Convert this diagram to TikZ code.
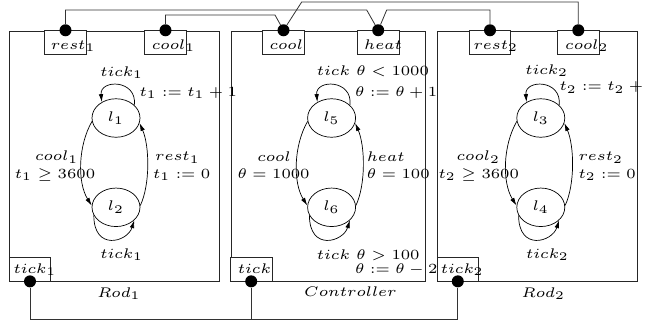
\documentclass[tikz,border=0pt]{standalone}
\usetikzlibrary{arrows.meta,shapes.geometric}
\newcommand{\mtx}[1]{\scalebox{2.55}[2.33]{\fontsize{6}{7}\selectfont$#1$}}
\begin{document}
\begin{tikzpicture}[x=1pt,y=-1pt,
  comp/.style={draw=black!85, line width=0.8pt, inner sep=0pt, anchor=north west},
  port/.style={draw=black!85, fill=white, line width=0.8pt, minimum width=41.5pt, minimum height=23.3pt, inner sep=0pt},
  dot/.style={circle, fill=black, minimum size=12pt, inner sep=0pt},
  loc/.style={ellipse, draw, line width=0.7pt, minimum width=48pt, minimum height=38.5pt, inner sep=0pt},
  lbl/.style={inner sep=0pt},
  arr/.style={-{Latex[length=8pt,width=4.5pt]}, line width=0.7pt},
  wire/.style={line width=0.8pt, draw=black!80}]
\useasboundingbox (0,0) rectangle (649,325);
% components
\node[comp, minimum width=209.7pt, minimum height=250.3pt] (rod1) at (9.3,30.7) {};
\node[comp, minimum width=194.3pt, minimum height=250.3pt] (ctrl) at (230.7,30.7) {};
\node[comp, minimum width=200pt, minimum height=250.3pt] (rod2) at (437.3,30.7) {};
% ports
\node[port] (prest1) at (65.5,42.3) {};
\node[port] (pcool1) at (165.5,42.3) {};
\node[port] (pcool) at (283.5,42.3) {};
\node[port] (pheat) at (378.2,42.3) {};
\node[port] (prest2) at (490,42.3) {};
\node[port] (pcool2) at (578.3,42.3) {};
\node[port] (ptick1) at (30,269.3) {};
\node[port] (ptick) at (251.2,269.3) {};
\node[port] (ptick2) at (457.8,269.3) {};
\node[lbl, anchor=base west] (trest1) at (50.7,49.3) {\mtx{rest_1}};
\node[lbl, anchor=base west] (tcool1) at (151.7,49.3) {\mtx{cool_1}};
\node[lbl, anchor=base west] (tcool) at (269.3,49.3) {\mtx{cool}};
\node[lbl, anchor=base west] (theat) at (364,49.3) {\mtx{heat}};
\node[lbl, anchor=base west] (trest2) at (473.3,49.3) {\mtx{rest_2}};
\node[lbl, anchor=base west] (tcool2) at (565,49.3) {\mtx{cool_2}};
\node[lbl, anchor=base west] (ttick1) at (13.3,273) {\mtx{tick_1}};
\node[lbl, anchor=base west] (ttick) at (237.7,273.3) {\mtx{tick}};
\node[lbl, anchor=base west] (ttick2) at (440.7,273.3) {\mtx{tick_2}};
% dots
\node[dot] (drest1) at (prest1.north) {};
\node[dot] (dcool1) at (pcool1.north) {};
\node[dot] (dcool) at (pcool.north) {};
\node[dot] (dheat) at (pheat.north) {};
\node[dot] (drest2) at (prest2.north) {};
\node[dot] (dcool2) at (pcool2.north) {};
\node[dot] (dtick1) at (ptick1.south) {};
\node[dot] (dtick) at (ptick.south) {};
\node[dot] (dtick2) at (ptick2.south) {};
% wires
\coordinate (bus) at (0,319);
\draw[wire] (drest1) |- (366.7,10) -- (dheat);
\draw[wire] (dheat) -- (386.7,10) -| (drest2);
\draw[wire] (dcool1) |- (275,15) -- (dcool);
\draw[wire] (dcool) -- (301.7,2) -| (dcool2);
\draw[wire] (dtick1) -- (dtick1 |- bus) -| (dtick2);
\draw[wire] (dtick) -- (dtick |- bus);
% locations
\node[loc] (l1) at (116,118) {\mtx{l_1}};
\node[loc] (l2) at (116,207.3) {\mtx{l_2}};
\node[loc] (l5) at (331.6,118) {\mtx{l_5}};
\node[loc] (l6) at (331.6,207.3) {\mtx{l_6}};
\node[loc] (l3) at (540.8,118) {\mtx{l_3}};
\node[loc] (l4) at (540.8,207.3) {\mtx{l_4}};
% transitions
\foreach \a/\b in {l1/l2, l5/l6, l3/l4} {
  \draw[arr] (\a.188) .. controls +(-14,24) and +(-14.5,-23) .. (\b.176);
  \draw[arr] (\b.4) .. controls +(10,-21) and +(10,23) .. (\a.-12);
  \draw[arr] (\a.35) .. controls +(3,-26) and +(-2,-23) .. (\a.132);
  \draw[arr] (\b.200) .. controls +(0,36) and +(-7,22) .. (\b.-35);
}
% Rod1 labels
\node[lbl, anchor=base] (a1) at (121.7,76) {\mtx{tick_1}};
\node[lbl, anchor=base west] (a2) at (139.3,96) {\mtx{t_1 := t_1 + 1}};
\node[lbl, anchor=base] (a3) at (56.7,160.5) {\mtx{cool_1}};
\node[lbl, anchor=base] (a4) at (55,178.3) {\mtx{t_1 \geq 3600}};
\node[lbl, anchor=base west] (a5) at (155,160.5) {\mtx{rest_1}};
\node[lbl, anchor=base west] (a6) at (153,178.3) {\mtx{t_1 := 0}};
\node[lbl, anchor=base] (a7) at (121.7,258) {\mtx{tick_1}};
\node[lbl, anchor=base] (a8) at (119,297) {\mtx{Rod_1}};
% Controller labels
\node[lbl, anchor=base west] (b1) at (316.7,75) {\mtx{tick\ \theta < 1000}};
\node[lbl, anchor=base west] (b2) at (355,96.7) {\mtx{\theta := \theta + 1}};
\node[lbl, anchor=base] (b3) at (274,161) {\mtx{cool}};
\node[lbl, anchor=base west] (b4) at (237.3,178.3) {\mtx{\theta = 1000}};
\node[lbl, anchor=base west] (b5) at (366.7,161) {\mtx{heat}};
\node[lbl, anchor=base west] (b6) at (366.7,178.3) {\mtx{\theta = 100}};
\node[lbl, anchor=base west] (b7) at (316.7,259) {\mtx{tick\ \theta > 100}};
\node[lbl, anchor=base west] (b8) at (355,273.3) {\mtx{\theta := \theta - 2}};
\node[lbl, anchor=base] (b9) at (350.4,296.7) {\mtx{Controller}};
% Rod2 labels
\node[lbl, anchor=base] (c1) at (546.7,74) {\mtx{tick_2}};
\node[lbl, anchor=base west] (c2) at (559.3,90.5) {\mtx{t_2 := t_2 + 1}};
\node[lbl, anchor=base] (c3) at (478.3,160.5) {\mtx{cool_2}};
\node[lbl, anchor=base] (c4) at (478.8,178.3) {\mtx{t_2 \geq 3600}};
\node[lbl, anchor=base west] (c5) at (578.3,160.5) {\mtx{rest_2}};
\node[lbl, anchor=base west] (c6) at (578.3,178.3) {\mtx{t_2 := 0}};
\node[lbl, anchor=base] (c7) at (547.5,258) {\mtx{tick_2}};
\node[lbl, anchor=base] (c8) at (543.3,297) {\mtx{Rod_2}};
\end{tikzpicture}
\end{document}
